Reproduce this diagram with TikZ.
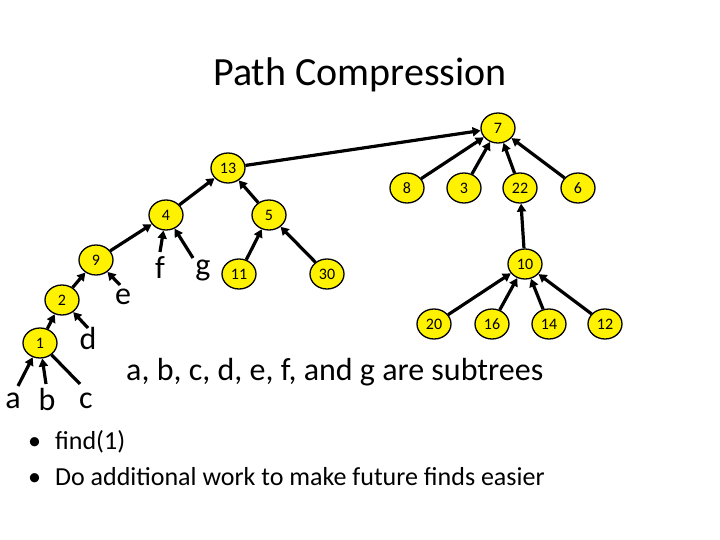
\documentclass[tikz,border=0pt]{standalone}
\usepackage{fontspec}
\setmainfont{Carlito}
\usetikzlibrary{shapes.geometric,arrows.meta}
\begin{document}
\begin{tikzpicture}[x=1pt,y=-1pt,
 n/.style={ellipse,draw,line width=1.3pt,fill=yellow,minimum width=34pt,minimum height=30pt,inner sep=0pt,font=\fontsize{16}{16}\selectfont},
 l/.style={font=\fontsize{32}{32}\selectfont,inner sep=0pt},
 e/.style={line width=3.2pt,-{Triangle[length=8pt,width=9pt]}},
 p/.style={line width=3.2pt}]
\useasboundingbox (0,0) rectangle (720,540);
\node[font=\fontsize{40}{40}\selectfont] (t) at (360,75) {Path Compression};
\node[n] (n7) at (498,128) {7};
\node[n] (n13) at (228,168) {13};
\node[n] (n8) at (407,188) {8};
\node[n] (n3) at (464,188) {3};
\node[n] (n22) at (520,188) {22};
\node[n] (n6) at (578,188) {6};
\node[n] (n4) at (166,215) {4};
\node[n] (n5) at (269,215) {5};
\node[n] (n9) at (96,260) {9};
\node[n] (n2) at (62,300) {2};
\node[n] (n1) at (40,343) {1};
\node[n] (n11) at (239,274) {11};
\node[n] (n30) at (327,274) {30};
\node[n] (n10) at (525,264) {10};
\node[n] (n20) at (434,324) {20};
\node[n] (n16) at (492,324) {16};
\node[n] (n14) at (549,324) {14};
\node[n] (n12) at (605,324) {12};
\node[l] (a) at (13,401) {a};
\node[l] (b) at (47,399) {b};
\node[l] (c) at (86,401) {c};
\node[l] (d) at (88,338) {d};
\node[l] (ee) at (123,297) {e};
\node[l] (f) at (160,268) {f};
\node[l] (g) at (203,270) {g};
\coordinate (ca) at (18,386); \coordinate (cb) at (46,384); \coordinate (cc) at (80,384);
\coordinate (cd) at (88,328); \coordinate (ce) at (120,285); \coordinate (cf) at (160,252); \coordinate (cg) at (193,258);
\draw[e] (ca) -- (n1); \draw[e] (cb) -- (n1); \draw[p] (cc) -- (n1);
\draw[e] (n1) -- (n2); \draw[e] (cd) -- (n2);
\draw[e] (n2) -- (n9); \draw[e] (ce) -- (n9);
\draw[e] (n9) -- (n4); \draw[e] (cf) -- (n4); \draw[e] (cg) -- (n4);
\draw[e] (n4) -- (n13); \draw[e] (n5) -- (n13);
\draw[e] (n11) -- (n5); \draw[e] (n30) -- (n5);
\draw[e] (n13) -- (n7); \draw[e] (n8) -- (n7); \draw[e] (n3) -- (n7); \draw[e] (n22) -- (n7); \draw[e] (n6) -- (n7);
\draw[e] (n10) -- (n22);
\draw[e] (n20) -- (n10); \draw[e] (n16) -- (n10); \draw[e] (n14) -- (n10); \draw[e] (n12) -- (n10);
\node[font=\fontsize{32}{32}\selectfont,anchor=west,inner sep=0pt] (s) at (126,372) {a, b, c, d, e, f, and g are subtrees};
\node[font=\fontsize{26}{26}\selectfont,anchor=west,inner sep=0pt] (b1) at (28,442) {•\hspace{14pt}find(1)};
\node[font=\fontsize{26}{26}\selectfont,anchor=west,inner sep=0pt] (b2) at (28,477) {•\hspace{14pt}Do additional work to make future finds easier};
\end{tikzpicture}
\end{document}
